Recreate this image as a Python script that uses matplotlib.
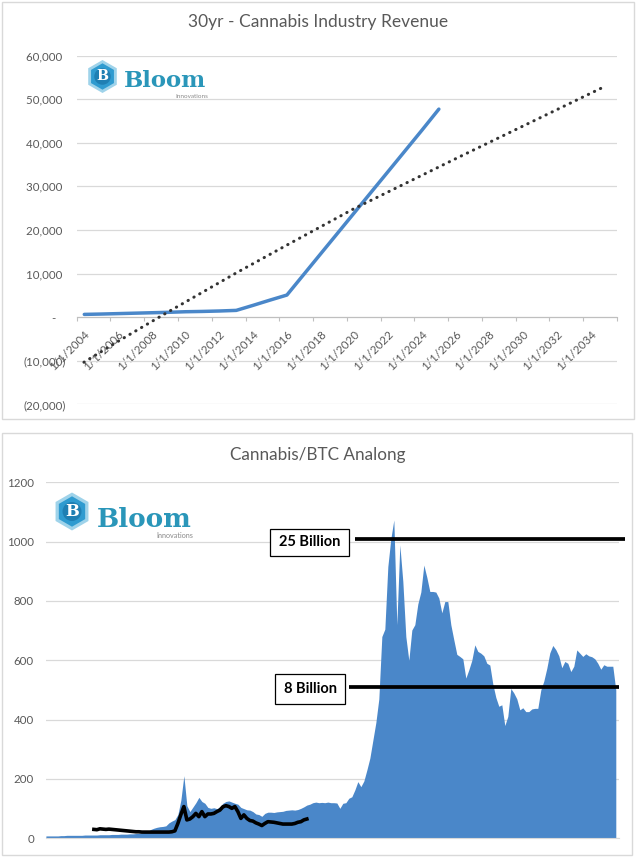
import matplotlib
matplotlib.use("Agg")
import matplotlib.pyplot as plt
import matplotlib.transforms as mtransforms
from matplotlib.patches import Rectangle, RegularPolygon, Circle
from matplotlib.ticker import FuncFormatter
import numpy as np

plt.rcParams['font.family'] = ['Lato', 'DejaVu Sans']

# ---------------- top chart: 30yr revenue ----------------
rev_years = list(range(2004, 2026))
rev_values = [620, 700, 800, 900, 1000, 1100, 1230, 1300, 1400, 1540, 2700,
              3900, 5060, 9790, 14520, 19240, 23970, 28700, 33420, 38150,
              42880, 47700]
# trendline (decimal years)
trend_years = [2004.43, 2006.56, 2009.33, 2013.47, 2016.43, 2020.37, 2026.68, 2035.26]
trend_values = [-10350, -5300, 1000, 10180, 16480, 24760, 36780, 52870]
tick_years = list(range(2004, 2036, 2))
tick_labels = ['1/1/%d' % y for y in tick_years]

# ---------------- bottom chart: cannabis / btc ----------------
btc_values = [
    8, 8, 8, 8, 8, 9, 9, 10, 10, 10,
    10, 10, 10, 11, 11, 11, 11, 11, 12, 12,
    12, 12, 13, 13, 13, 14, 14, 14, 15, 15,
    16, 17, 18, 20, 24, 30, 34, 37, 39, 40,
    42, 52, 58, 63, 80, 129, 211, 110, 90, 105,
    120, 138, 124, 118, 104, 101, 103, 100, 106, 118,
    124, 126, 122, 118, 115, 104, 100, 96, 95, 90,
    82, 80, 74, 84, 88, 88, 87, 89, 90, 91,
    94, 95, 96, 95, 97, 101, 106, 112, 115, 120,
    122, 120, 121, 120, 122, 120, 120, 119, 101, 118,
    120, 135, 140, 163, 191, 174, 193, 230, 270, 330,
    390, 470, 680, 705, 916, 1010, 1073, 720, 989, 866,
    680, 600, 702, 720, 790, 830, 921, 880, 832, 832,
    830, 810, 760, 798, 798, 720, 669, 620, 613, 605,
    540, 568, 600, 652, 630, 624, 615, 590, 584, 520,
    475, 445, 450, 380, 411, 505, 490, 470, 433, 440,
    427, 427, 436, 438, 438, 500, 530, 573, 625, 650,
    636, 615, 575, 596, 590, 562, 580, 635, 624, 613,
    622, 615, 612, 605, 590, 570, 585, 580, 580, 580,
    500]
cannabis_start = 16
cannabis_values = [
    30, 29, 32, 31, 30, 31, 30, 29, 28, 27,
    26, 25, 24, 23, 22, 22, 21, 21, 21, 21,
    21, 21, 21, 21, 21, 21, 22, 25, 50, 80,
    107, 62, 65, 73, 84, 73, 90, 73, 82, 82,
    84, 90, 95, 106, 110, 107, 101, 107, 90, 67,
    79, 67, 60, 58, 52, 48, 43, 50, 56, 55,
    54, 52, 50, 48, 48, 48, 48, 50, 54, 56,
    62, 65]
levels = [1010, 509]
level_labels = ['25 Billion', '8 Billion']

BLUE = '#4a87c9'
GRID = '#d9d9d9'
TXT = '#595959'

W, H = 636, 857
fig = plt.figure(figsize=(W / 100, H / 100), dpi=100)


def fbox(x0, y0, x1, y1):
    return [x0 / W, 1 - y1 / H, (x1 - x0) / W, (y1 - y0) / H]


def inch(x, y):
    return x / 100, (H - y) / 100


# panel borders
for (x0, y0, x1, y1) in [(1.5, 1.5, 633.5, 418.5), (1.5, 432.5, 631.5, 855)]:
    fig.patches.append(Rectangle(inch(x0, y1), (x1 - x0) / 100, (y1 - y0) / 100,
                                 transform=fig.dpi_scale_trans, fill=False,
                                 edgecolor=GRID, lw=1))


def logo(cx, cy, r, bx, by, bsize, ix, iy, isize):
    c = inch(cx, cy)
    t = fig.dpi_scale_trans
    fig.patches.append(RegularPolygon(c, 6, radius=r / 100, orientation=0,
                                      facecolor='#9fd3ea', edgecolor='none', transform=t))
    fig.patches.append(RegularPolygon(c, 6, radius=r * 0.8 / 100, orientation=0,
                                      facecolor='#2f9bd0', edgecolor='none', transform=t))
    fig.patches.append(Circle(c, r * 0.5 / 100, facecolor='#1f7fb3',
                              edgecolor='none', transform=t))
    fig.text(c[0], c[1], 'B', transform=t, ha='center', va='center',
             color='white', fontsize=r * 0.62, fontweight='bold', family='DejaVu Serif')
    fig.text(*inch(bx, by), 'Bloom', transform=t, ha='left', va='baseline',
             color='#2a96b9', fontsize=bsize, fontweight='heavy', family='DejaVu Serif')
    fig.text(*inch(ix, iy), 'Innovations', transform=t, ha='right', va='baseline',
             color='#8a8a8a', fontsize=isize)


# ---------------- top chart ----------------
ax1 = fig.add_axes(fbox(76.7, 55.5, 617, 404.3))
ax1.set_xlim(2004, 2036)
ax1.set_ylim(-20000, 60000)
ax1.set_yticks(range(-20000, 60001, 10000))


def acct(v, pos):
    if v == 0:
        return '-   '
    if v < 0:
        return '(%s)' % format(-v, ',.0f')
    return format(v, ',.0f') + ' '


ax1.yaxis.set_major_formatter(FuncFormatter(acct))
ax1.grid(axis='y', color=GRID, lw=0.9)
ax1.set_axisbelow(True)
for s in ['top', 'right', 'left']:
    ax1.spines[s].set_visible(False)
ax1.spines['bottom'].set_position(('data', 0))
ax1.spines['bottom'].set_color('#bfbfbf')
ax1.set_xticks(tick_years + [2036])
ax1.set_xticklabels(tick_labels + [''])
ax1.tick_params(axis='x', length=3, color='#bfbfbf', labelsize=8.3, labelcolor=TXT, pad=8)
ax1.tick_params(axis='y', length=0, pad=8, labelsize=8.3, labelcolor=TXT)
off = mtransforms.ScaledTranslation(11 / 100, 0, fig.dpi_scale_trans)
for lab in ax1.get_xticklabels():
    lab.set_rotation(45)
    lab.set_ha('right')
    lab.set_va('center')
    lab.set_rotation_mode('anchor')
    lab.set_transform(lab.get_transform() + off)

ax1.plot(np.array(rev_years) + 0.45, rev_values, color=BLUE, lw=2.5,
         solid_capstyle='round', zorder=3)
ax1.plot(trend_years, trend_values, color='#333333', lw=2.2,
         ls=(0, (0.1, 2.1)), dash_capstyle='round', zorder=4)

fig.text(318 / W, 1 - 22 / H, '30yr - Cannabis Industry Revenue', ha='center',
         va='center', fontsize=12.5, color=TXT)
logo(102.5, 76.5, 16.5, 124, 87, 16.4, 208, 97.5, 4.6)

# ---------------- bottom chart ----------------
ax2 = fig.add_axes(fbox(45.9, 482.3, 619.4, 838.3))
idx = np.arange(len(btc_values))
ax2.fill_between(idx, btc_values, 0, color=BLUE, lw=0, zorder=2)
cx = np.arange(len(cannabis_values)) + cannabis_start
ax2.plot(cx, cannabis_values, color='black', lw=2.6, zorder=3)
ax2.set_xlim(0, 191.2)
ax2.set_ylim(0, 1200)
ax2.set_yticks(range(0, 1201, 200))
ax2.set_xticks([])
ax2.grid(axis='y', color=GRID, lw=0.9)
ax2.set_axisbelow(True)
for s in ['top', 'right', 'left']:
    ax2.spines[s].set_visible(False)
ax2.spines['bottom'].set_color(GRID)
ax2.tick_params(axis='y', length=0, pad=8.6, labelsize=8.3, labelcolor=TXT)

yt = ax2.get_yaxis_transform()
ax2.hlines(levels[0], 0.5397, 1.0106, transform=yt, color='black', lw=2.7,
           clip_on=False, zorder=5)
ax2.hlines(levels[1], 0.529, 1.0, transform=yt, color='black', lw=2.7,
           clip_on=False, zorder=5)

for (x0, y0, x1, y1), lab in zip([(270, 529, 349.3, 556), (275, 674.3, 345.2, 704.3)],
                                 level_labels):
    fig.patches.append(Rectangle(inch(x0, y1), (x1 - x0) / 100, (y1 - y0) / 100,
                                 transform=fig.dpi_scale_trans, facecolor='white',
                                 edgecolor='black', lw=0.9, zorder=6))
    fig.text(*inch((x0 + x1) / 2, (y0 + y1) / 2), lab, transform=fig.dpi_scale_trans,
             ha='center', va='center', fontsize=10.5, fontweight='bold', color='black',
             zorder=7)

fig.text(318 / W, 1 - 455 / H, 'Cannabis/BTC Analong', ha='center', va='center',
         fontsize=12.3, color=TXT)
logo(72, 511.5, 19, 96.7, 526.7, 18.9, 193, 538, 5.2)

fig.savefig('out.png', dpi=100)
